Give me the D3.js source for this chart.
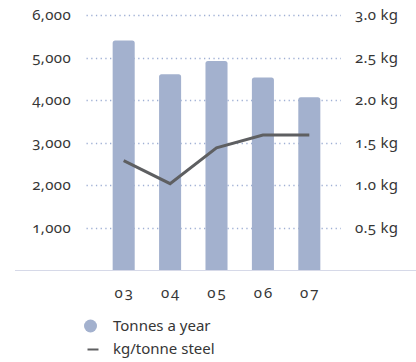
<!DOCTYPE html>
<html><head><meta charset="utf-8">
<script src="https://cdn.jsdelivr.net/npm/d3@7"></script>
<style>
html,body{margin:0;padding:0;background:#fff;}
svg text{font-family:"Noto Sans",sans-serif;fill:#363636;font-variant-numeric:oldstyle-nums;font-feature-settings:"onum" 1;}
</style></head>
<body><svg id="c" width="416" height="362"></svg>
<script>
const years = ["03","04","05","06","07"];
const tonnes = [5400, 4610, 4920, 4530, 4070];
const kgPerTonne = [1.29, 1.02, 1.44, 1.59, 1.59];
const leftTicks = [1000,2000,3000,4000,5000,6000];
const rightTicks = [0.5,1.0,1.5,2.0,2.5,3.0];
const legendLabels = ["Tonnes a year","kg/tonne steel"];

const svg = d3.select("#c");
const x = d3.scaleBand().domain(years).range([100.5, 332.5]).paddingInner(0.525).paddingOuter(0.262);
const yL = d3.scaleLinear().domain([0,6000]).range([270.5,15]);
const yR = d3.scaleLinear().domain([0,3]).range([270.5,15]);

// grid
const grid = svg.append("g");
leftTicks.forEach(t=>{
  grid.append("line").attr("x1",86.5).attr("x2",341).attr("y1",Math.round(yL(t))+0.5).attr("y2",Math.round(yL(t))+0.5)
   .attr("stroke","#9fb0d4").attr("stroke-width",1.4).attr("stroke-dasharray","1.3 3.4");
});

// bars
svg.append("g").selectAll("path").data(years).join("path")
  .attr("d",(d,i)=>{
    const x0=x(d), w=x.bandwidth(), y0=yL(tonnes[i]), yb=yL(0), r=2.5;
    return `M${x0},${yb}V${y0+r}Q${x0},${y0} ${x0+r},${y0}H${x0+w-r}Q${x0+w},${y0} ${x0+w},${y0+r}V${yb}Z`;
  }).attr("fill","#a3b1ce");

// baseline
svg.append("line").attr("x1",15).attr("x2",416).attr("y1",270.5).attr("y2",270.5).attr("stroke","#d6d9e8").attr("stroke-width",1.2);

// line
const line = d3.line().x((d,i)=>x(years[i])+x.bandwidth()/2).y(d=>yR(d));
svg.append("path").attr("d",line(kgPerTonne)).attr("fill","none").attr("stroke","#5e5f61").attr("stroke-width",3).attr("stroke-linejoin","miter");

// left axis labels
const fmt = d3.format(",");
svg.append("g").selectAll("text").data(leftTicks).join("text")
  .attr("x",71).attr("y",d=>yL(d)+5).attr("text-anchor","end").attr("font-size",15).attr("letter-spacing",0.4).text(d=>fmt(d));
// right axis labels
svg.append("g").selectAll("text").data(rightTicks).join("text")
  .attr("x",355).attr("y",d=>yR(d)+5).attr("font-size",15).attr("letter-spacing",0.3).text(d=>d.toFixed(1)+" kg");
// x labels
svg.append("g").selectAll("text").data(years).join("text")
  .attr("x",d=>x(d)+x.bandwidth()/2+1).attr("y",298).attr("text-anchor","middle").attr("font-size",15).attr("letter-spacing",2).text(d=>d);

// legend
svg.append("circle").attr("cx",90.5).attr("cy",326).attr("r",6.5).attr("fill","#a3b1ce");
svg.append("line").attr("x1",87.5).attr("x2",98.5).attr("y1",349.5).attr("y2",349.5).attr("stroke","#5e5f61").attr("stroke-width",2);
svg.append("text").attr("x",113).attr("y",331).attr("font-size",15).text(legendLabels[0]);
svg.append("text").attr("x",113).attr("y",354).attr("font-size",15).text(legendLabels[1]);
</script></body></html>
